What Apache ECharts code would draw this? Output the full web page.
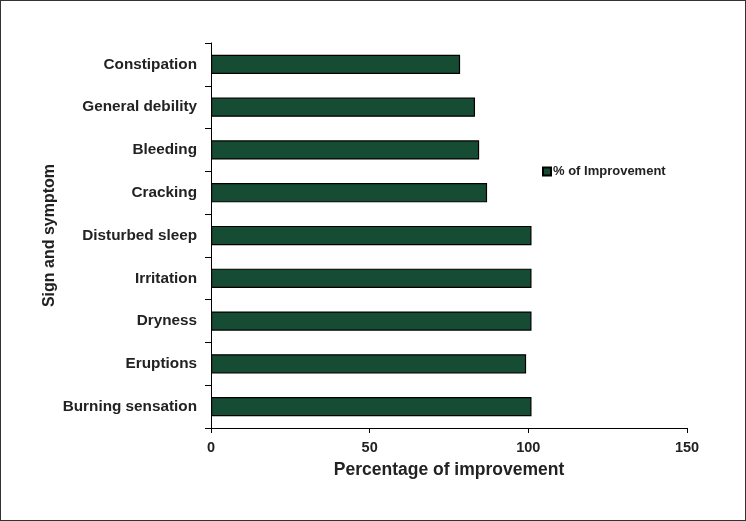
<!DOCTYPE html>
<html><head><meta charset="utf-8">
<script src="https://cdn.jsdelivr.net/npm/echarts@6/dist/echarts.min.js"></script>
<style>
html,body{margin:0;padding:0;background:#fff;}
#c{width:746px;height:521px;box-sizing:border-box;border:1px solid #333;}
</style></head>
<body><div id="c"></div>
<script>
const categories = ["Burning sensation","Eruptions","Dryness","Irritation","Disturbed sleep","Cracking","Bleeding","General debility","Constipation"];
const improvement = [101, 99.3, 101, 101, 101, 87, 84.5, 83.2, 78.5];
const xTicks = [0, 50, 100, 150];
const seriesName = "% of Improvement";

const chart = echarts.init(document.getElementById('c'), null, {renderer:'canvas'});
const font = "'Liberation Sans', Arial, sans-serif";
chart.setOption({
  animation:false,
  textStyle:{fontFamily:font},
  grid:{left:210, right:58, top:42, bottom:92, containLabel:false},
  legend:{
    data:[seriesName], left:536, top:159, icon:'rect', itemWidth:8, itemHeight:8,
    textStyle:{fontSize:13, fontWeight:'bold', color:'#222', fontFamily:font, padding:[0,0,0,-3]}
  },
  xAxis:{
    type:'value', min:xTicks[0], max:xTicks[xTicks.length-1], interval:50,
    name:'Percentage of improvement', nameLocation:'middle', nameGap:33,
    nameTextStyle:{fontSize:17.5, fontWeight:'bold', color:'#222', fontFamily:font},
    axisLine:{show:true, lineStyle:{color:'#000', width:1}},
    axisTick:{show:true, length:5, lineStyle:{color:'#000'}},
    axisLabel:{fontSize:14.5, fontWeight:'bold', color:'#222', margin:12, fontFamily:font},
    splitLine:{show:false}
  },
  yAxis:{
    type:'category', data:categories,
    name:'Sign and symptom', nameLocation:'middle', nameGap:153, nameRotate:90, nameMoveOverlap:false,
    nameTextStyle:{fontSize:16, fontWeight:'bold', color:'#222', fontFamily:font},
    axisLine:{show:true, lineStyle:{color:'#000', width:1}},
    axisTick:{show:true, length:6, lineStyle:{color:'#000'}},
    axisLabel:{fontSize:15.3, fontWeight:'bold', color:'#222', margin:14, fontFamily:font}
  },
  series:[{
    name:seriesName, type:'bar', data:improvement, barWidth:'45%',
    itemStyle:{color:'#164c34', borderColor:'#000', borderWidth:1.2}
  }]
});
</script></body></html>
